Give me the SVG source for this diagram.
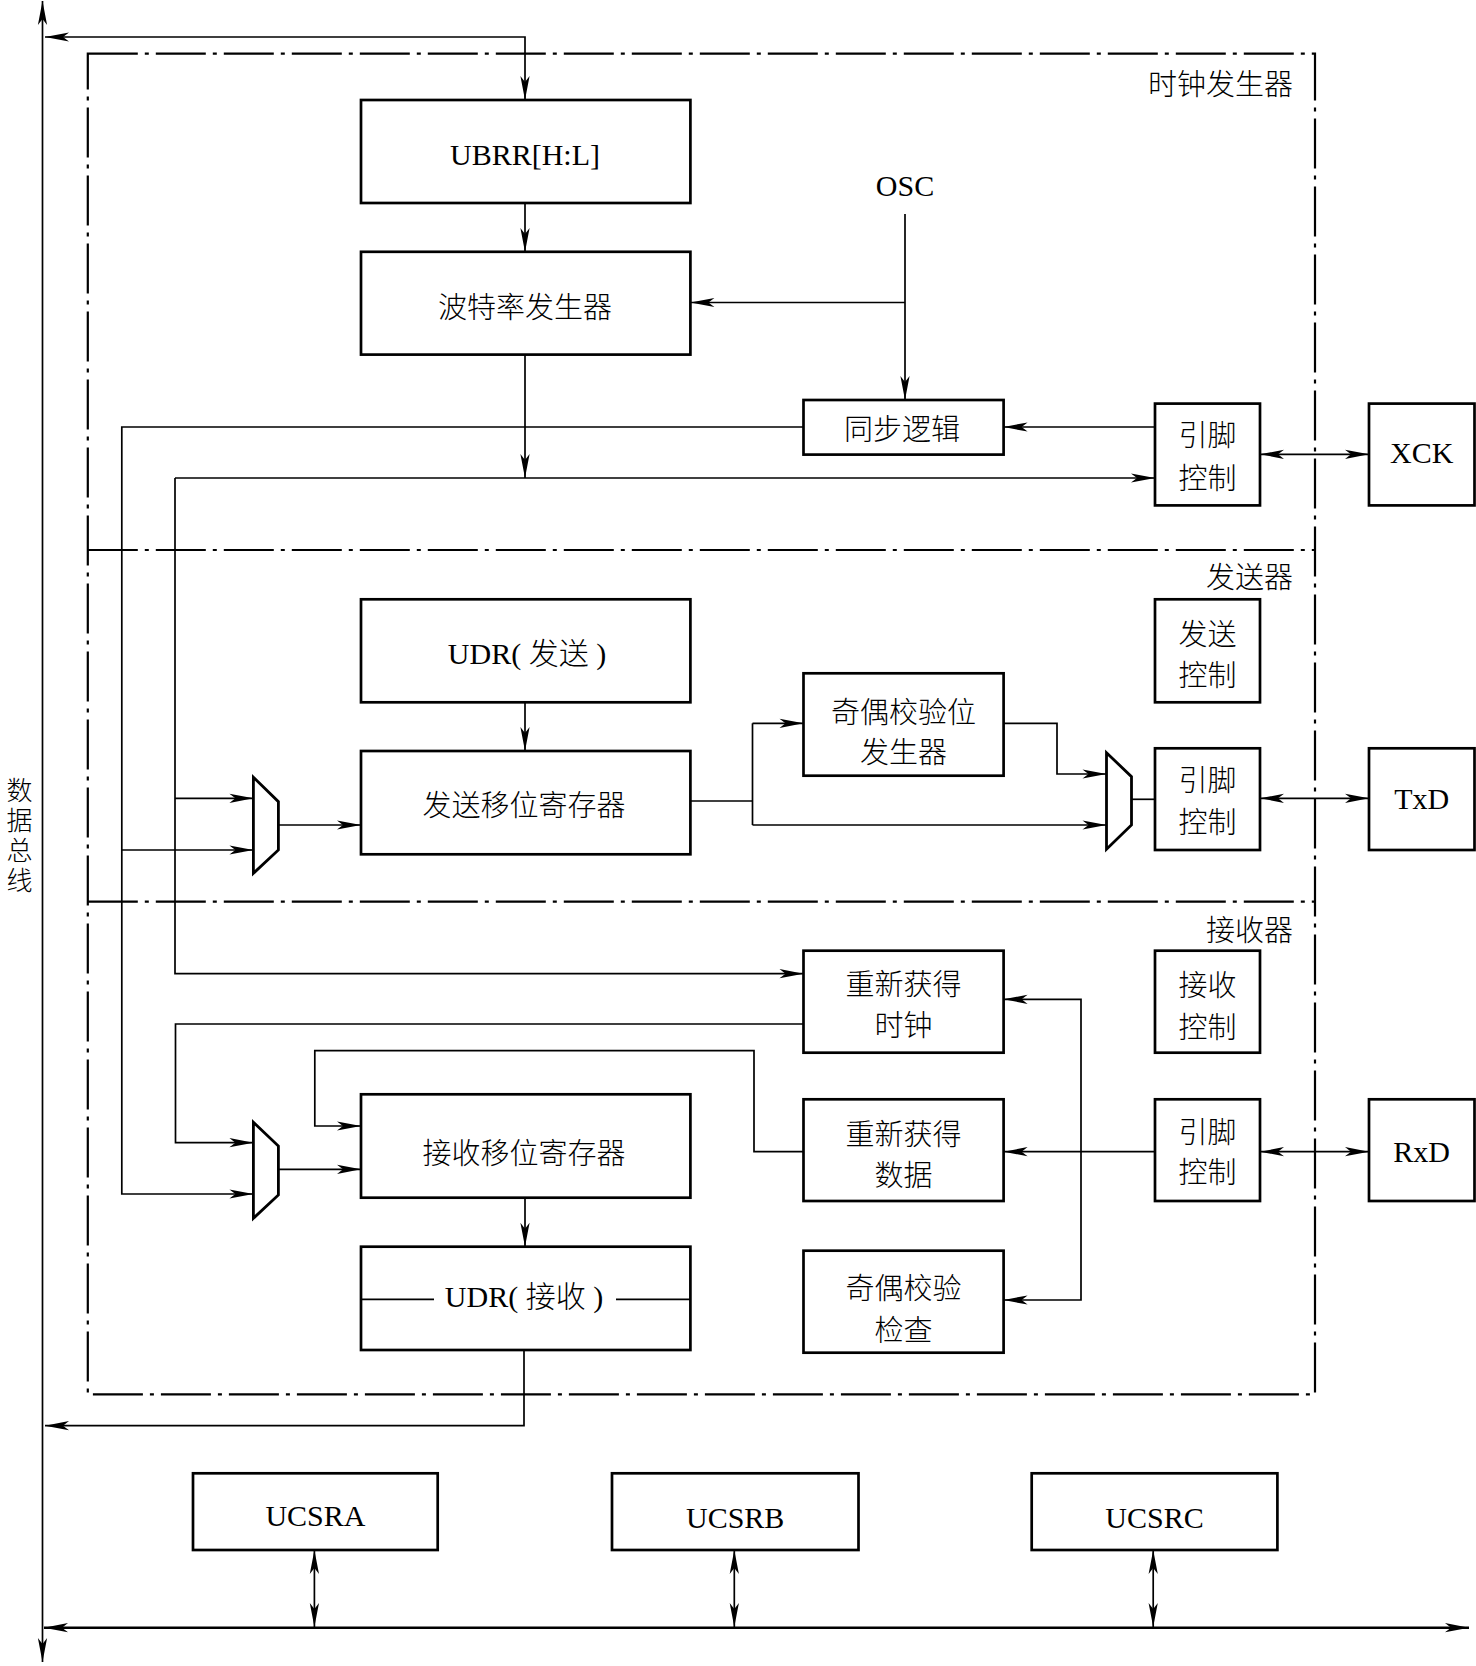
<svg xmlns="http://www.w3.org/2000/svg" width="1476" height="1666" viewBox="0 0 1476 1666">
<style>
.box{fill:#fff;stroke:#000;stroke-width:2.7}
.mux{fill:#fff;stroke:#000;stroke-width:2.8;stroke-linejoin:miter}
.ln{fill:none;stroke:#000;stroke-width:1.7}
.frame{fill:none;stroke:#000;stroke-width:2.2;stroke-dasharray:50 7 4 7}
.t{font-family:"Liberation Serif","Noto Sans CJK SC",serif;font-size:30px;font-weight:300;fill:#000;text-anchor:middle;dominant-baseline:central}
.c{font-family:"Noto Sans CJK SC","Noto Sans CJK JP",sans-serif;font-size:29px;font-weight:300;fill:#000;text-anchor:middle;dominant-baseline:central}
.v{font-family:"Noto Sans CJK SC","Noto Sans CJK JP",sans-serif;font-size:26px;font-weight:300;fill:#000;text-anchor:middle;writing-mode:vertical-rl;letter-spacing:4px}
.r{text-anchor:end}
</style>
<defs>
<marker id="ah" viewBox="-26 -6 28 12" refX="0" refY="0" markerWidth="28" markerHeight="12" markerUnits="userSpaceOnUse" orient="auto-start-reverse">
<path d="M0,0 L-24,-4.6 L-18,0 L-24,4.6 Z" fill="#000"/>
</marker>
</defs>
<rect width="1476" height="1666" fill="#fff"/>

<g id="frames">
<rect class="frame" x="87.8" y="53.6" width="1227.2" height="1340.7"/>
<line class="frame" x1="87.8" y1="550" x2="1315" y2="550"/>
<line class="frame" x1="87.8" y1="901.7" x2="1315" y2="901.7"/>
<text class="c r" x="1293" y="82">时钟发生器</text>
<text class="c r" x="1293" y="575">发送器</text>
<text class="c r" x="1293" y="928">接收器</text>
</g>

<g id="connectors">
<line class="ln" x1="42.5" y1="1662" x2="42.5" y2="1" marker-start="url(#ah)" marker-end="url(#ah)"/>
<line class="ln" style="stroke-width:2.4" x1="44" y1="1627.7" x2="1469" y2="1627.7" marker-start="url(#ah)" marker-end="url(#ah)"/>
<polyline class="ln" points="45,37 525,37 525,100" marker-start="url(#ah)" marker-end="url(#ah)"/>
<line class="ln" x1="525" y1="203" x2="525" y2="252" marker-end="url(#ah)"/>
<line class="ln" x1="905" y1="214" x2="905" y2="400" marker-end="url(#ah)"/>
<line class="ln" x1="905" y1="302.5" x2="690.4" y2="302.5" marker-end="url(#ah)"/>
<line class="ln" x1="525" y1="354.6" x2="525" y2="478" marker-end="url(#ah)"/>
<polyline class="ln" points="803.5,427 121.8,427 121.8,1194 253.4,1194" marker-end="url(#ah)"/>
<line class="ln" x1="121.8" y1="850" x2="253.4" y2="850" marker-end="url(#ah)"/>
<line class="ln" x1="1155" y1="427" x2="1003.6" y2="427" marker-end="url(#ah)"/>
<line class="ln" x1="175" y1="478" x2="1155" y2="478" marker-end="url(#ah)"/>
<polyline class="ln" points="175,478 175,973.7 803.5,973.7" marker-end="url(#ah)"/>
<line class="ln" x1="175" y1="798.3" x2="253.4" y2="798.3" marker-end="url(#ah)"/>
<line class="ln" x1="1260" y1="454.3" x2="1369" y2="454.3" marker-start="url(#ah)" marker-end="url(#ah)"/>
<line class="ln" x1="525" y1="702.3" x2="525" y2="751" marker-end="url(#ah)"/>
<line class="ln" x1="278.4" y1="825" x2="361" y2="825" marker-end="url(#ah)"/>
<line class="ln" x1="690.4" y1="801" x2="752.5" y2="801"/>
<line class="ln" x1="752.5" y1="723.3" x2="752.5" y2="825"/>
<line class="ln" x1="752.5" y1="723.3" x2="803.5" y2="723.3" marker-end="url(#ah)"/>
<line class="ln" x1="752.5" y1="825" x2="1106.5" y2="825" marker-end="url(#ah)"/>
<polyline class="ln" points="1003.6,723.3 1057,723.3 1057,774 1106.5,774" marker-end="url(#ah)"/>
<line class="ln" x1="1131.5" y1="799.3" x2="1155" y2="799.3"/>
<line class="ln" x1="1260" y1="798.3" x2="1369" y2="798.3" marker-start="url(#ah)" marker-end="url(#ah)"/>
<polyline class="ln" points="803.5,1024 175.5,1024 175.5,1142.7 253.4,1142.7" marker-end="url(#ah)"/>
<polyline class="ln" points="803.5,1151.7 754,1151.7 754,1050.7 314.8,1050.7 314.8,1126 361,1126" marker-end="url(#ah)"/>
<line class="ln" x1="278.4" y1="1169.3" x2="361" y2="1169.3" marker-end="url(#ah)"/>
<line class="ln" x1="525" y1="1197.7" x2="525" y2="1246.7" marker-end="url(#ah)"/>
<polyline class="ln" points="524,1350 524,1425.7 45,1425.7" marker-end="url(#ah)"/>
<line class="ln" x1="1155" y1="1151.7" x2="1003.6" y2="1151.7" marker-end="url(#ah)"/>
<polyline class="ln" points="1003.6,999.3 1081,999.3 1081,1300 1003.6,1300" marker-start="url(#ah)" marker-end="url(#ah)"/>
<line class="ln" x1="1260" y1="1151.7" x2="1369" y2="1151.7" marker-start="url(#ah)" marker-end="url(#ah)"/>
<line class="ln" x1="314.4" y1="1550" x2="314.4" y2="1627" marker-start="url(#ah)" marker-end="url(#ah)"/>
<line class="ln" x1="734.3" y1="1550" x2="734.3" y2="1627" marker-start="url(#ah)" marker-end="url(#ah)"/>
<line class="ln" x1="1153.2" y1="1550" x2="1153.2" y2="1627" marker-start="url(#ah)" marker-end="url(#ah)"/>
</g>

<g id="bus-label">
<text class="v" x="19.5" y="837">数据总线</text>
</g>

<g id="ubrr">
<rect class="box" x="361" y="100" width="329.4" height="103"/>
<text class="t" x="525" y="154">UBRR[H:L]</text>
</g>
<g id="baud">
<rect class="box" x="361" y="251.8" width="329.4" height="102.8"/>
<text class="c" x="525" y="304.5">波特率发生器</text>
</g>
<g id="osc">
<text class="t" x="905" y="185">OSC</text>
</g>
<g id="sync">
<rect class="box" x="803.5" y="400" width="200.1" height="54.6"/>
<text class="c" x="902" y="426.8">同步逻辑</text>
</g>
<g id="pin-xck">
<rect class="box" x="1155" y="403.6" width="105" height="101.8"/>
<text class="c" x="1207.5" y="433">引脚</text>
<text class="c" x="1207.5" y="475.8">控制</text>
</g>
<g id="xck">
<rect class="box" x="1369" y="403.6" width="105.5" height="101.8"/>
<text class="t" x="1421.7" y="452.7">XCK</text>
</g>

<g id="udr-tx">
<rect class="box" x="361" y="599.3" width="329.4" height="103"/>
<text class="t" x="527" y="653">UDR( 发送 )</text>
</g>
<g id="tx-shift">
<rect class="box" x="361" y="751" width="329.4" height="103.3"/>
<text class="c" x="524" y="803.3">发送移位寄存器</text>
</g>
<g id="mux-tx">
<polygon class="mux" points="253.4,777.3 278.4,801.7 278.4,850 253.4,873.3"/>
</g>
<g id="tx-ctrl">
<rect class="box" x="1155" y="599.3" width="105" height="103"/>
<text class="c" x="1207.5" y="631.7">发送</text>
<text class="c" x="1207.5" y="673.3">控制</text>
</g>
<g id="parity-gen">
<rect class="box" x="803.5" y="673.3" width="200.1" height="102.4"/>
<text class="c" x="903.5" y="710">奇偶校验位</text>
<text class="c" x="903.5" y="750">发生器</text>
</g>
<g id="mux-out">
<polygon class="mux" points="1106.5,752.7 1131.5,776.7 1131.5,825 1106.5,849.3"/>
</g>
<g id="pin-tx">
<rect class="box" x="1155" y="748.3" width="105" height="101.7"/>
<text class="c" x="1207.5" y="778">引脚</text>
<text class="c" x="1207.5" y="820">控制</text>
</g>
<g id="txd">
<rect class="box" x="1369" y="748.3" width="105.5" height="101.7"/>
<text class="t" x="1421.7" y="798">TxD</text>
</g>

<g id="clk-rec">
<rect class="box" x="803.5" y="950.7" width="200.1" height="102"/>
<text class="c" x="903.5" y="981.7">重新获得</text>
<text class="c" x="903.5" y="1022.7">时钟</text>
</g>
<g id="rx-ctrl">
<rect class="box" x="1155" y="950.7" width="105" height="102"/>
<text class="c" x="1207.5" y="983.3">接收</text>
<text class="c" x="1207.5" y="1025">控制</text>
</g>
<g id="data-rec">
<rect class="box" x="803.5" y="1099.3" width="200.1" height="101.7"/>
<text class="c" x="903.5" y="1131.7">重新获得</text>
<text class="c" x="903.5" y="1172.7">数据</text>
</g>
<g id="pin-rx">
<rect class="box" x="1155" y="1099.3" width="105" height="101.7"/>
<text class="c" x="1207.5" y="1130">引脚</text>
<text class="c" x="1207.5" y="1170">控制</text>
</g>
<g id="rxd">
<rect class="box" x="1369" y="1099.3" width="105.5" height="101.7"/>
<text class="t" x="1421.7" y="1151">RxD</text>
</g>
<g id="parity-chk">
<rect class="box" x="803.5" y="1250.7" width="200.1" height="102"/>
<text class="c" x="903.5" y="1286">奇偶校验</text>
<text class="c" x="903.5" y="1327.7">检查</text>
</g>
<g id="rx-shift">
<rect class="box" x="361" y="1094.3" width="329.4" height="103.4"/>
<text class="c" x="524" y="1151">接收移位寄存器</text>
</g>
<g id="mux-rx">
<polygon class="mux" points="253.4,1122.3 278.4,1146 278.4,1195 253.4,1218.3"/>
</g>
<g id="udr-rx">
<rect class="box" x="361" y="1246.7" width="329.4" height="103.3"/>
<line class="ln" x1="361" y1="1299.3" x2="434" y2="1299.3"/>
<line class="ln" x1="616" y1="1299.3" x2="690.4" y2="1299.3"/>
<text class="t" x="524" y="1296.5">UDR( 接收 )</text>
</g>

<g id="ucsra">
<rect class="box" x="193" y="1473.3" width="244.7" height="76.7"/>
<text class="t" x="315.4" y="1515">UCSRA</text>
</g>
<g id="ucsrb">
<rect class="box" x="612" y="1473.3" width="246.5" height="76.7"/>
<text class="t" x="735.2" y="1517">UCSRB</text>
</g>
<g id="ucsrc">
<rect class="box" x="1031.7" y="1473.3" width="245.7" height="76.7"/>
<text class="t" x="1154.5" y="1517">UCSRC</text>
</g>
</svg>
